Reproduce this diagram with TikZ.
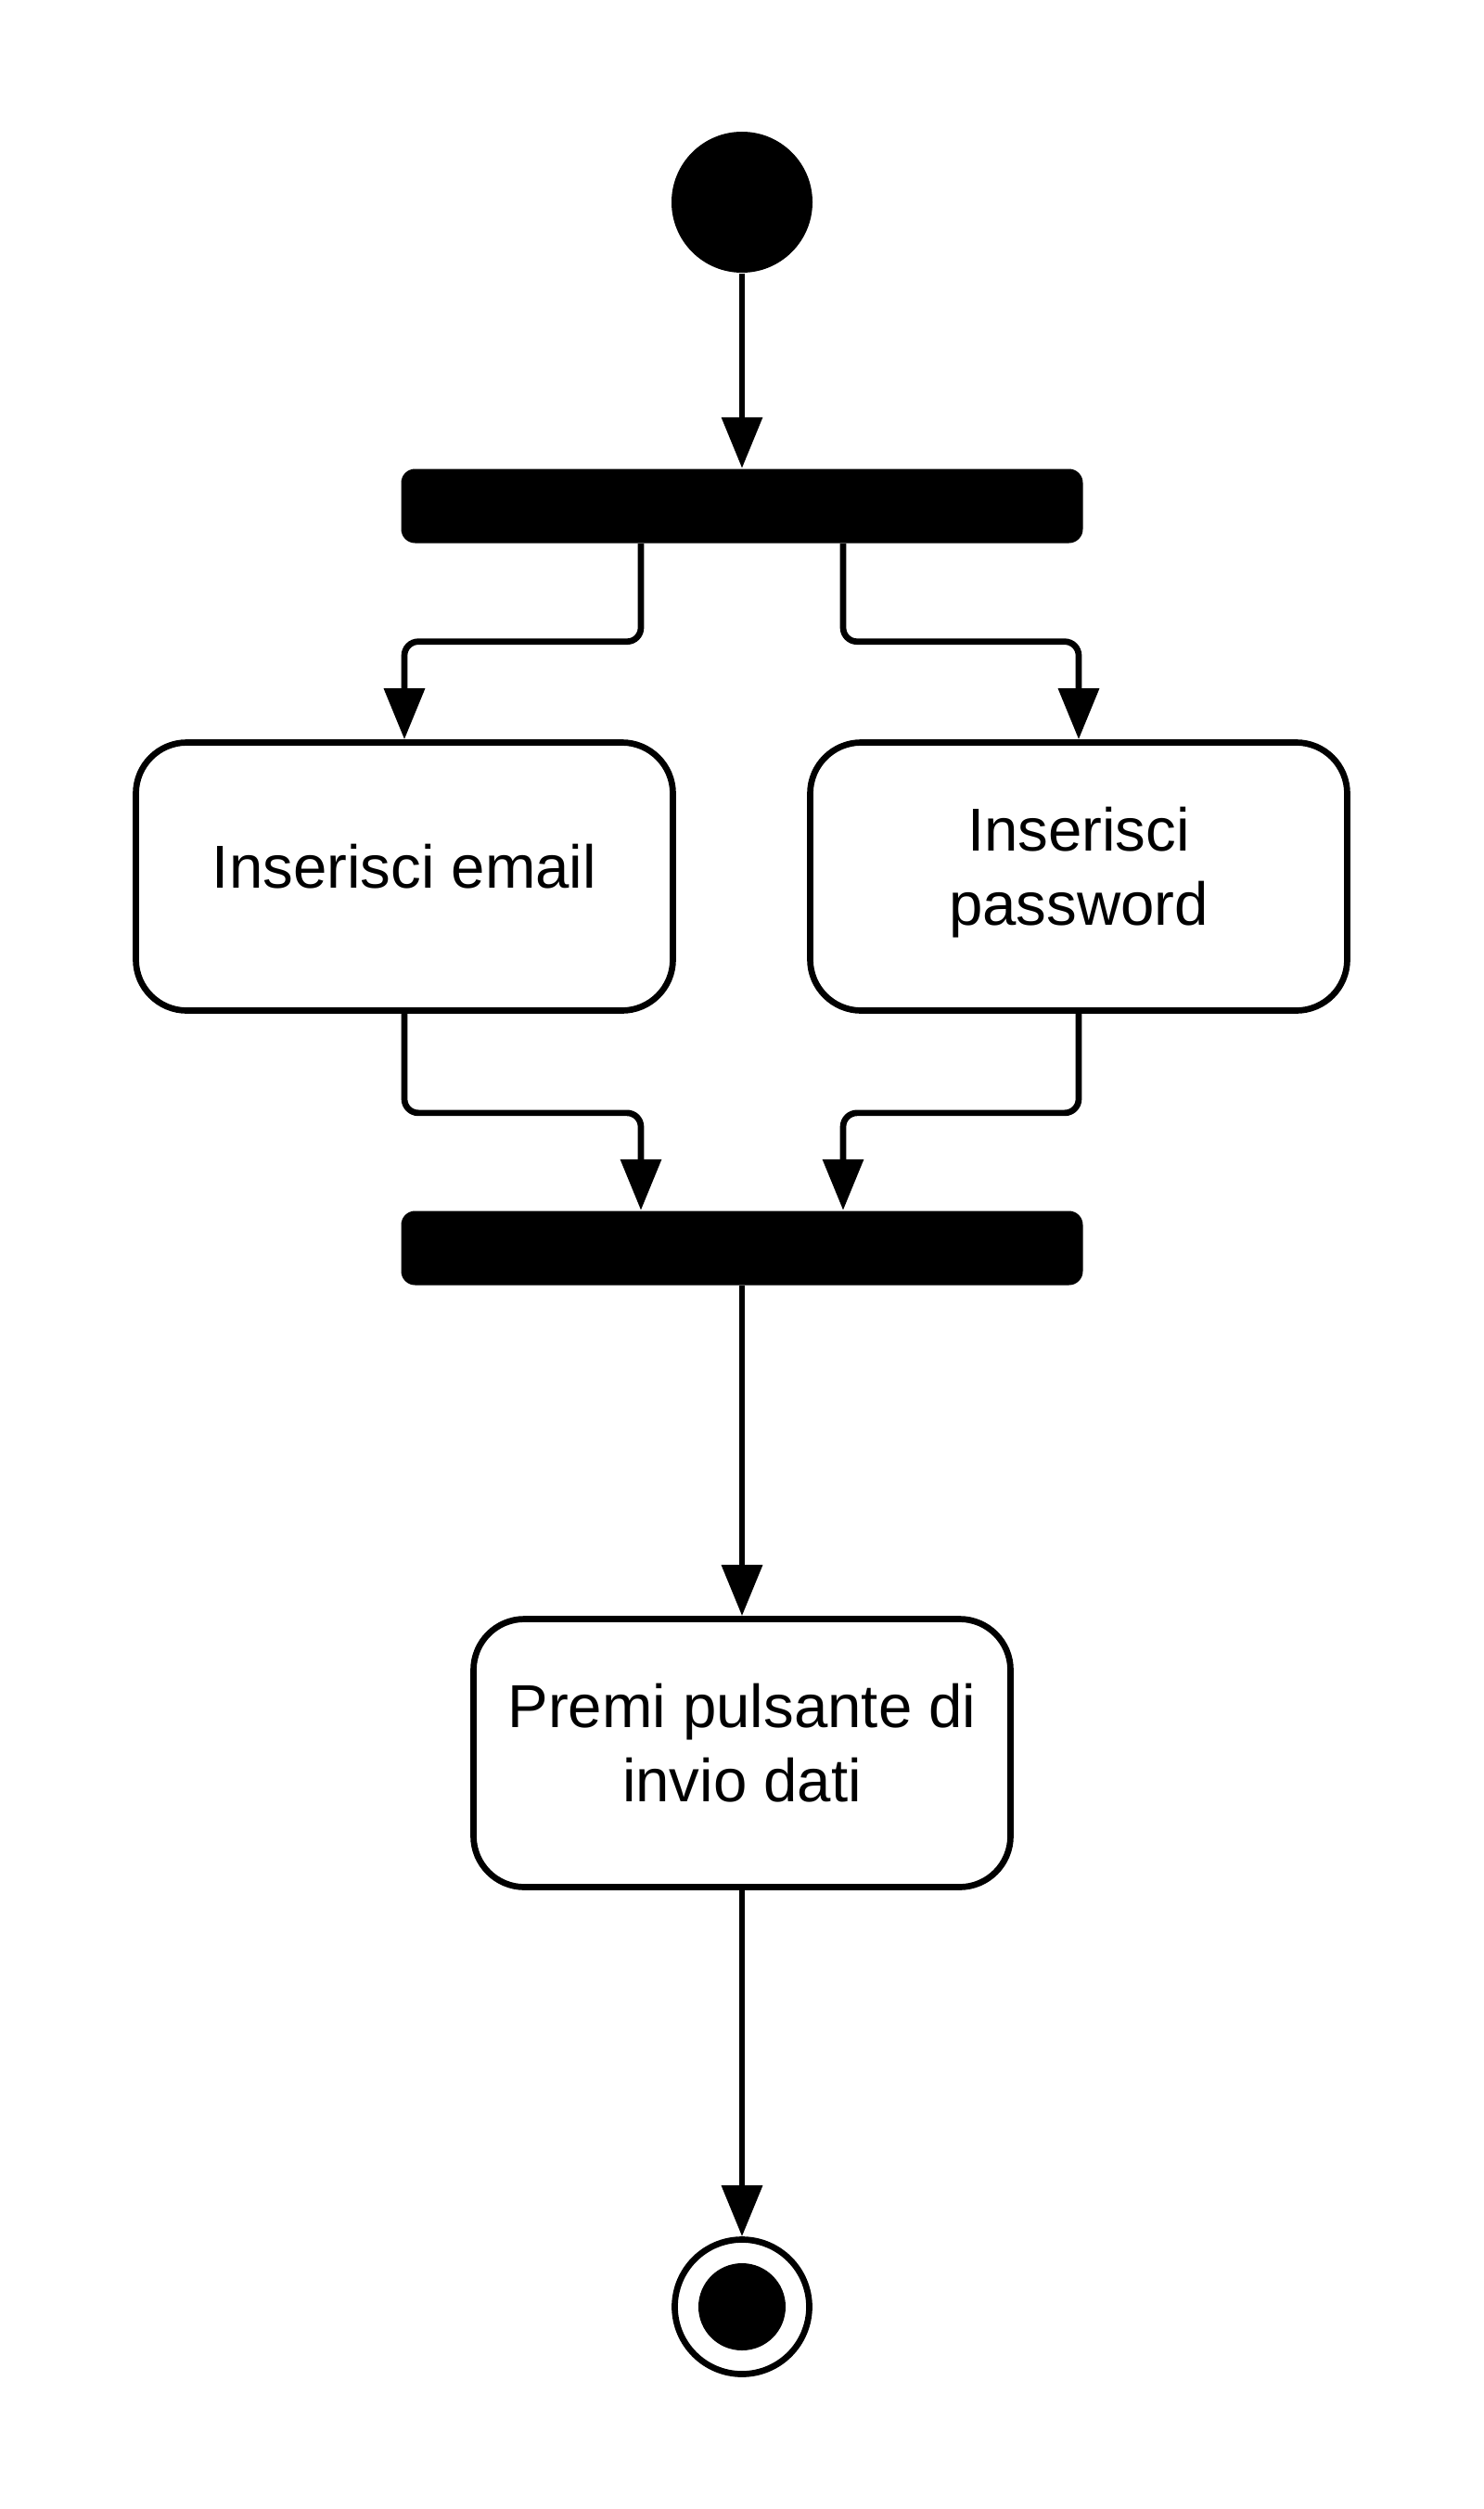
\documentclass[tikz,border=0pt]{standalone}
\usepackage{fontspec}
\setmainfont{Liberation Sans}
\usetikzlibrary{arrows.meta,shapes,positioning}
\tikzstyle{activity} = [rectangle, rounded corners=0.55cm, minimum width=5.79cm, minimum height=2.89cm, text centered, align=center, draw=black, fill=white, line width=0.067cm, text depth=0.22cm, font=\fontsize{18.6}{22.8}\selectfont]
\tikzstyle{syncbar} = [rectangle, rounded corners=0.15cm, minimum width=7.35cm, minimum height=0.8cm, inner sep=0pt, fill=black]
\tikzstyle{startstate} = [circle, minimum size=1.52cm, inner sep=0pt, fill=black]
\tikzstyle{endstate} = [circle, minimum size=1.45cm, inner sep=0pt, draw=black, fill=white, line width=0.067cm]
\tikzstyle{arrow} = [line width=0.067cm, -{Triangle[length=0.55cm,width=0.43cm]}, rounded corners=0.15cm]

\begin{document}
\begin{tikzpicture}
\useasboundingbox[fill=white] (0,0) rectangle (16,-27.05);

\node[startstate] (start) at (8,-2.18) {};
\node[syncbar] (fork) at (8,-5.455) {};
\node[activity] (email) at (4.36,-9.45) {Inserisci email};
\node[activity] (pwd) at (11.63,-9.45) {Inserisci\\password};
\node[syncbar] (join) at (8,-13.455) {};
\node[activity] (premi) at (8,-18.9) {Premi pulsante di\\invio dati};
\node[endstate] (end) at (8,-24.87) {};
\node[circle, minimum size=0.94cm, inner sep=0pt, fill=black] (endcore) at (end) {};

\draw[arrow] (start) -- (fork);
\draw[arrow] ([xshift=-1.09cm]fork.south) -- ++(0,-1.055) -| (email.north);
\draw[arrow] ([xshift=1.09cm]fork.south) -- ++(0,-1.055) -| (pwd.north);
\draw[arrow] (email.south) -- ++(0,-1.07) -| ([xshift=-1.09cm]join.north);
\draw[arrow] (pwd.south) -- ++(0,-1.07) -| ([xshift=1.09cm]join.north);
\draw[arrow] (join) -- (premi);
\draw[arrow] (premi) -- (end);
\end{tikzpicture}
\end{document}
